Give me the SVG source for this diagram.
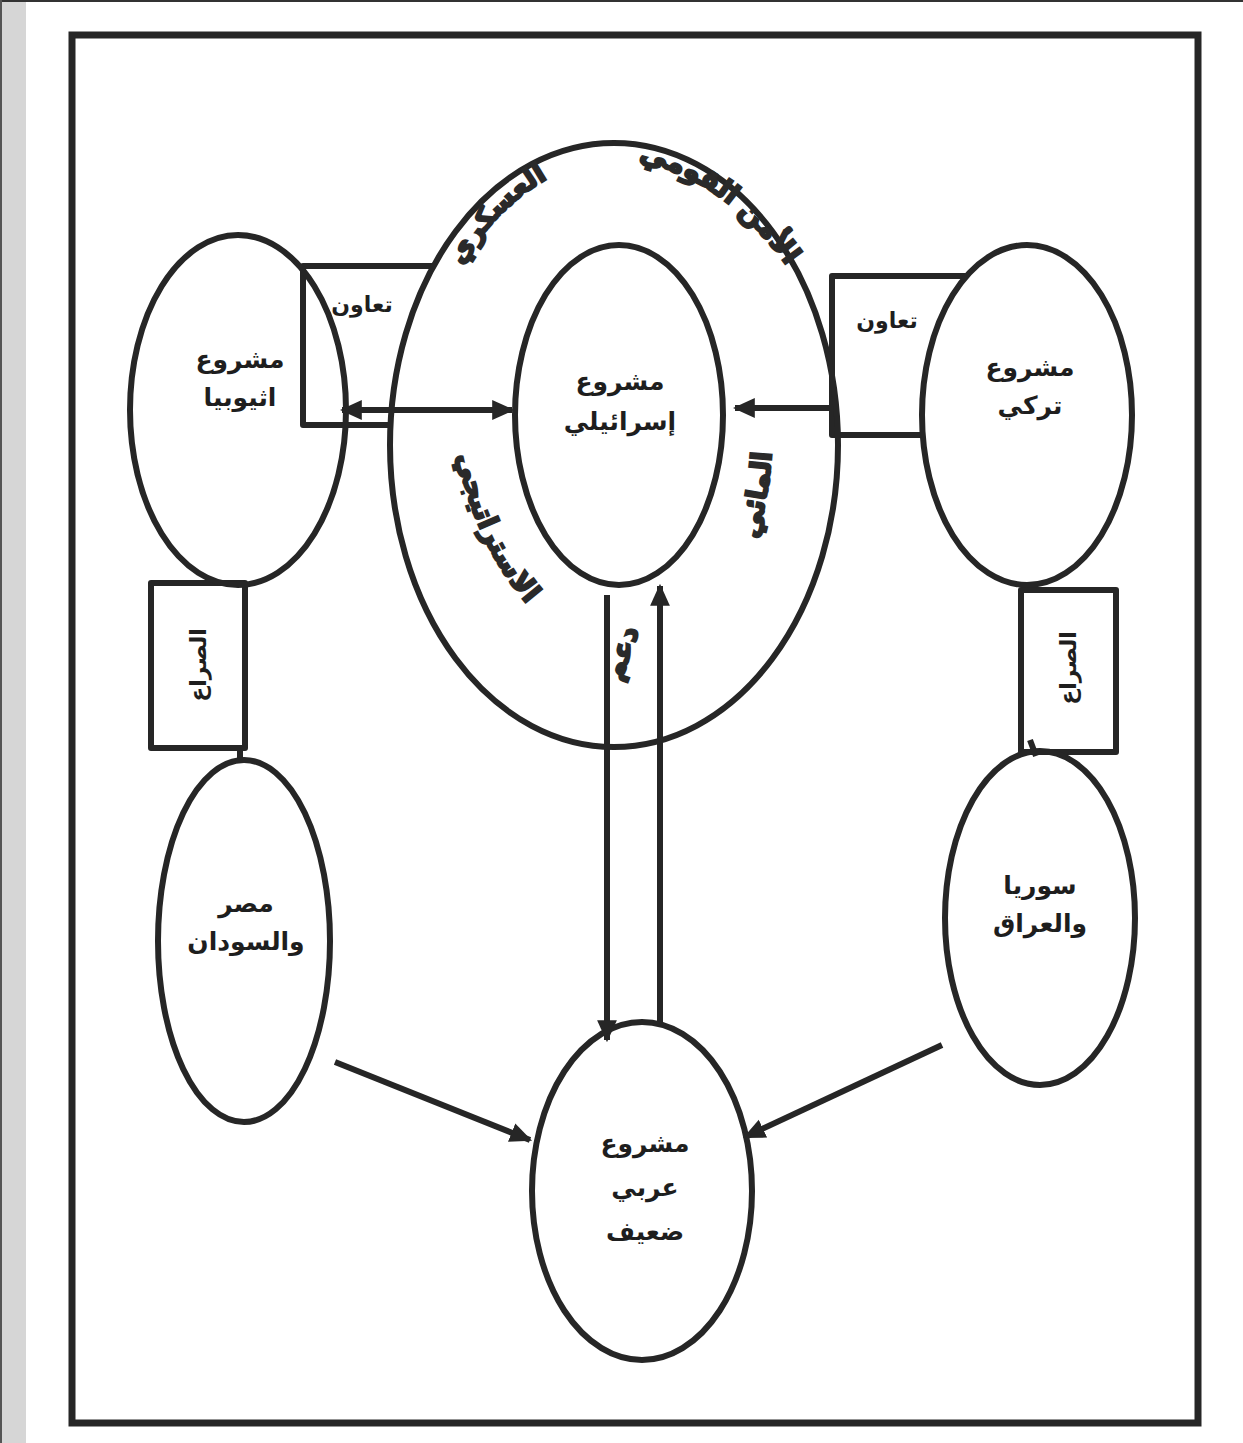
<svg xmlns="http://www.w3.org/2000/svg" width="1243" height="1443" viewBox="0 0 1243 1443">
  <style>
    .ln { fill: none; stroke: #262626; stroke-width: 6; stroke-linejoin: round; }
    .nd { fill: none; stroke: #262626; stroke-width: 6; }
    .lbl { font-family: "DejaVu Sans", "Noto Sans", sans-serif; font-weight: bold; font-size: 25px; fill: #1e1e1e; text-anchor: middle; }
    .ring { font-family: "DejaVu Sans", "Noto Sans", sans-serif; font-weight: bold; font-size: 28px; fill: #2a2a2a; stroke: #2a2a2a; stroke-width: 2; text-anchor: middle; }
    .box { font-family: "DejaVu Sans", "Noto Sans", sans-serif; font-weight: bold; font-size: 22px; fill: #1e1e1e; text-anchor: middle; }
  </style>
  <defs>
    <marker id="ah" viewBox="0 0 20 20" refX="18" refY="10" markerWidth="22" markerHeight="22" markerUnits="userSpaceOnUse" orient="auto-start-reverse">
      <path d="M0,1 L20,10 L0,19 Z" fill="#262626"/>
    </marker>
    <path id="pTL" d="M456,278 Q490,208 560,172"/>
    <path id="pTR" d="M636,160 Q726,180 788,268"/>
    <path id="pL" d="M458,458 Q474,540 525,602"/>
    <path id="pR" d="M748,566 Q772,500 773,424"/>
  </defs>

  <!-- page background and frame -->
  <rect x="0" y="0" width="1243" height="1443" fill="#ffffff"/>
  <rect x="0" y="0" width="26" height="1443" fill="#d6d6d6"/>
  <line x1="0" y1="1" x2="1243" y2="1" stroke="#333" stroke-width="2"/>
  <line x1="1" y1="0" x2="1" y2="1443" stroke="#555" stroke-width="2"/>
  <rect x="72" y="35" width="1126" height="1388" fill="#ffffff" stroke="#262626" stroke-width="7"/>

  <!-- connectors -->
  <g id="connectors">
    <!-- cooperation boxes -->
    <path class="ln" d="M432,266 H303 V425 H393"/>
    <path class="ln" d="M966,276 H832 V435 H925"/>
    <!-- conflict boxes -->
    <rect class="ln" x="151" y="583" width="94" height="165"/>
    <rect class="ln" x="1021" y="590" width="95" height="162"/>
    <line class="ln" x1="240" y1="748" x2="240" y2="762"/>
    <line class="ln" x1="1030" y1="740" x2="1036" y2="756"/>
    <!-- Ethiopia <-> Israel -->
    <line class="ln" x1="342" y1="410" x2="512" y2="410" marker-start="url(#ah)" marker-end="url(#ah)"/>
    <!-- Turkey -> Israel -->
    <line class="ln" x1="832" y1="408" x2="735" y2="408" marker-end="url(#ah)"/>
    <!-- Israel <-> Arab -->
    <line class="ln" x1="607" y1="595" x2="607" y2="1040" marker-end="url(#ah)"/>
    <line class="ln" x1="660" y1="1024" x2="660" y2="586" marker-end="url(#ah)"/>
    <!-- Egypt/Sudan and Syria/Iraq -> Arab -->
    <line class="ln" x1="335" y1="1062" x2="530" y2="1140" marker-end="url(#ah)"/>
    <line class="ln" x1="942" y1="1045" x2="745" y2="1137" marker-end="url(#ah)"/>
  </g>

  <!-- outer ring around the Israeli project -->
  <g id="ring">
    <ellipse class="nd" cx="614" cy="445" rx="224" ry="302"/>
    <text class="ring"><textPath href="#pTL" startOffset="50%">العسكري</textPath></text>
    <text class="ring"><textPath href="#pTR" startOffset="50%">الأمن القومي</textPath></text>
    <text class="ring"><textPath href="#pL" startOffset="50%">الاستراتيجي</textPath></text>
    <text class="ring"><textPath href="#pR" startOffset="50%">المائي</textPath></text>
    <text class="ring" font-size="24" transform="translate(630,656) rotate(-70)">دعم</text>
  </g>

  <g id="israel">
    <ellipse class="nd" cx="619" cy="415" rx="104" ry="170"/>
    <text class="lbl" x="620" y="390">مشروع</text>
    <text class="lbl" x="620" y="430">إسرائيلي</text>
  </g>

  <g id="ethiopia">
    <ellipse class="nd" cx="238" cy="410" rx="108" ry="175"/>
    <text class="lbl" x="240" y="368">مشروع</text>
    <text class="lbl" x="240" y="406">اثيوبيا</text>
  </g>

  <g id="turkey">
    <ellipse class="nd" cx="1027" cy="415" rx="105" ry="170"/>
    <text class="lbl" x="1030" y="376">مشروع</text>
    <text class="lbl" x="1030" y="414">تركي</text>
  </g>

  <g id="egypt-sudan">
    <ellipse class="nd" cx="244" cy="941" rx="86" ry="181"/>
    <text class="lbl" x="246" y="912">مصر</text>
    <text class="lbl" x="246" y="950">والسودان</text>
  </g>

  <g id="syria-iraq">
    <ellipse class="nd" cx="1040" cy="918" rx="95" ry="167"/>
    <text class="lbl" x="1040" y="894">سوريا</text>
    <text class="lbl" x="1040" y="932">والعراق</text>
  </g>

  <g id="arab">
    <ellipse class="nd" cx="642" cy="1191" rx="110" ry="169"/>
    <text class="lbl" x="645" y="1152">مشروع</text>
    <text class="lbl" x="645" y="1196">عربي</text>
    <text class="lbl" x="645" y="1240">ضعيف</text>
  </g>

  <g id="coop-left">
    <text class="box" x="362" y="312">تعاون</text>
  </g>
  <g id="coop-right">
    <text class="box" x="887" y="328">تعاون</text>
  </g>
  <g id="conflict-left">
    <text class="box" transform="translate(206,665) rotate(-90)">الصراع</text>
  </g>
  <g id="conflict-right">
    <text class="box" transform="translate(1076,668) rotate(-90)">الصراع</text>
  </g>
</svg>
